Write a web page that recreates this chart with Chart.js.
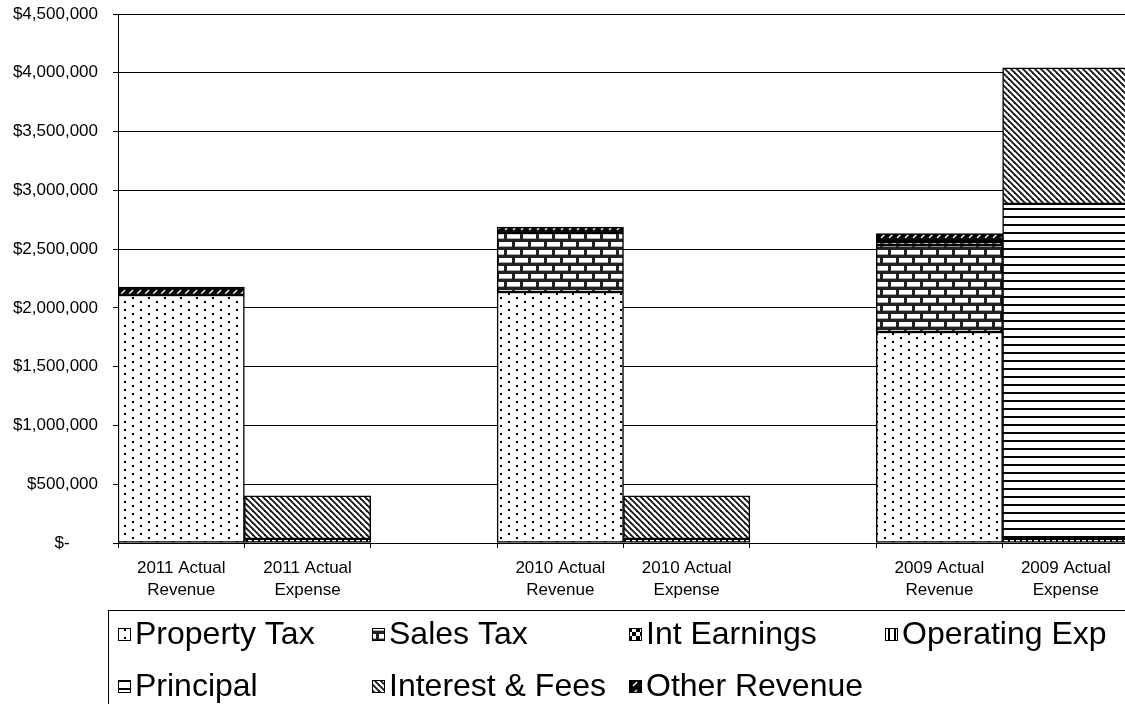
<!DOCTYPE html>
<html>
<head>
<meta charset="utf-8">
<script src="https://cdn.jsdelivr.net/npm/chart.js@4"></script>
<style>
  html, body { margin: 0; padding: 0; background: #fff; overflow: hidden; }
  #wrap { width: 1130px; height: 720px; position: relative; }
</style>
</head>
<body>
<div id="wrap"><canvas id="budgetChart"></canvas></div>
<script>
// categories (empty slots are the gaps between years)
const categories = [
    ['2011 Actual', 'Revenue'], ['2011 Actual', 'Expense'], '',
    ['2010 Actual', 'Revenue'], ['2010 Actual', 'Expense'], '',
    ['2009 Actual', 'Revenue'], ['2009 Actual', 'Expense']
];
const seriesNames = ['Property Tax', 'Sales Tax', 'Int Earnings', 'Operating Exp', 'Principal', 'Interest & Fees', 'Other Revenue'];

// values (dollars)
const propertyTax  = [2110000, null, null, 2135000, null, null, 1795000, null];
const salesTax     = [null, null, null, 502000, null, null, 740000, null];
const intEarnings  = [null, null, null, null, null, null, 25000, null];
const operatingExp = [null, 35000, null, null, 35000, null, null, 35000];
const principal    = [null, null, null, null, null, null, null, 2850000];
const interestFees = [null, 367000, null, null, 367000, null, null, 1157000];
const otherRevenue = [68000, null, null, 51000, null, null, 72000, null];

const yTicks = [0, 500000, 1000000, 1500000, 2000000, 2500000, 3000000, 3500000, 4000000, 4500000];

document.addEventListener('DOMContentLoaded', function () {
    const ctx = document.getElementById('budgetChart').getContext('2d');

    // little helper to build a repeating pattern
    function makePattern(w, h, draw) {
        const c = document.createElement('canvas');
        c.width = w; c.height = h;
        const p = c.getContext('2d');
        p.fillStyle = '#fff';
        p.fillRect(0, 0, w, h);
        draw(p);
        return ctx.createPattern(c, 'repeat');
    }

    const dots = makePattern(16, 8, p => {
        p.fillStyle = '#000';
        p.fillRect(4, 1, 2, 2);
        p.fillRect(12, 5, 2, 2);
    });
    const bricks = makePattern(16, 16, p => {
        p.fillStyle = '#222';
        p.fillRect(0, 0, 16, 16);
        p.fillStyle = '#fff';
        p.fillRect(3, 2, 13, 4);
        p.fillRect(11, 10, 5, 4);
        p.fillRect(0, 10, 8, 4);
        p.fillStyle = '#aaa';
        p.fillRect(3, 6, 13, 1);
        p.fillRect(11, 14, 5, 1);
        p.fillRect(0, 14, 8, 1);
    });
    const checks = makePattern(8, 8, p => {
        p.fillStyle = '#000';
        p.fillRect(0, 0, 4, 4);
        p.fillRect(4, 4, 4, 4);
    });
    const vLines = makePattern(6, 6, p => {
        p.fillStyle = '#000';
        p.fillRect(0, 0, 2, 6);
    });
    const hLines = makePattern(8, 8, p => {
        p.fillStyle = '#000';
        p.fillRect(0, 0, 8, 2);
    });
    const diagDown = makePattern(6, 6, p => {
        p.strokeStyle = '#111';
        p.lineWidth = 1.8;
        [-6, 0, 6].forEach(o => {
            p.beginPath();
            p.moveTo(o - 1, -1);
            p.lineTo(o + 7, 7);
            p.stroke();
        });
    });
    const slashes = makePattern(8, 8, p => {
        p.fillStyle = '#000';
        p.fillRect(0, 0, 8, 8);
        p.strokeStyle = '#fff';
        p.lineWidth = 1.5;
        p.beginPath();
        p.moveTo(1, 6);
        p.lineTo(5, 2);
        p.stroke();
    });

    const fills = [dots, bricks, checks, vLines, hLines, diagDown, slashes];
    const seriesData = [propertyTax, salesTax, intEarnings, operatingExp, principal, interestFees, otherRevenue];

    const datasets = seriesNames.map((name, i) => ({
        label: name,
        data: seriesData[i],
        backgroundColor: fills[i],
        borderColor: '#000',
        borderWidth: 1.5,
        borderSkipped: false,
        categoryPercentage: 1.0,
        barPercentage: 1.0
    }));

    // legend drawn on the canvas below the axis, in fixed columns
    const boxLegend = {
        id: 'boxLegend',
        afterDraw(chart) {
            const c = chart.ctx;
            c.save();
            c.strokeStyle = '#000';
            c.lineWidth = 1;
            c.strokeRect(108.5, 610.5, 1100, 200);
            const colX = [118, 372, 629, 885];
            const rowY = [634, 686];
            c.font = '32px "Liberation Sans", Arial, sans-serif';
            c.textBaseline = 'middle';
            c.textAlign = 'left';
            chart.data.datasets.forEach((ds, i) => {
                const x = colX[i % 4];
                const y = rowY[Math.floor(i / 4)];
                c.fillStyle = ds.backgroundColor;
                c.fillRect(x, y - 6, 13, 13);
                c.strokeStyle = '#000';
                c.strokeRect(x + 0.5, y - 5.5, 12, 12);
                c.fillStyle = '#000';
                c.fillText(ds.label, x + 17, y + 1);
            });
            c.restore();
        }
    };

    new Chart(ctx, {
        type: 'bar',
        data: { labels: categories, datasets: datasets },
        plugins: [boxLegend],
        options: {
            responsive: true,
            maintainAspectRatio: false,
            animation: false,
            layout: { padding: { top: 14, left: 0, right: 1, bottom: 110 } },
            plugins: {
                legend: { display: false },
                tooltip: { enabled: false }
            },
            scales: {
                x: {
                    stacked: true,
                    offset: true,
                    grid: {
                        offset: true,
                        drawOnChartArea: false,
                        drawTicks: true,
                        tickLength: 5,
                        color: '#000'
                    },
                    border: { color: '#000', width: 1 },
                    ticks: {
                        color: '#000',
                        maxRotation: 0,
                        autoSkip: false,
                        padding: 9,
                        font: { family: '"Liberation Sans", Arial, sans-serif', size: 17, lineHeight: 1.3 }
                    },
                    afterFit(scale) {
                        scale.height = 67;
                        scale.paddingLeft = 0;
                        scale.paddingRight = 0;
                    }
                },
                y: {
                    stacked: true,
                    min: 0,
                    max: 4500000,
                    afterBuildTicks(scale) {
                        scale.ticks = yTicks.map(v => ({ value: v }));
                    },
                    grid: {
                        color: '#000',
                        lineWidth: 1,
                        drawTicks: true,
                        tickLength: 5
                    },
                    border: { color: '#000', width: 1 },
                    ticks: {
                        color: '#000',
                        padding: 15,
                        font: { family: '"Liberation Sans", Arial, sans-serif', size: 17 },
                        callback: function (v) {
                            if (v === 0) return '$-      ';
                            return '$' + v.toLocaleString('en-US');
                        }
                    },
                    afterFit(scale) {
                        scale.width = 118;
                        scale.paddingTop = 0;
                        scale.paddingBottom = 0;
                    }
                }
            }
        }
    });
});
</script>
</body>
</html>
